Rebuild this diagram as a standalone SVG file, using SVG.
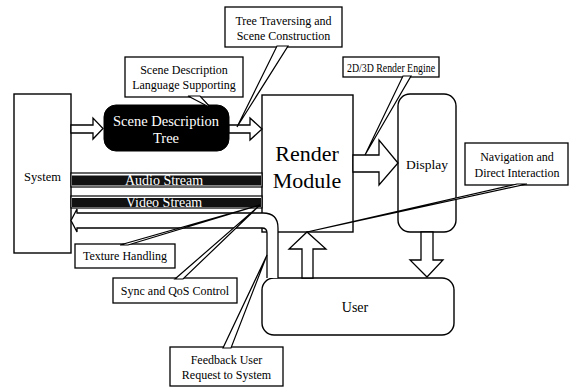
<svg xmlns="http://www.w3.org/2000/svg" width="569" height="388" viewBox="0 0 569 388">
<style>
.box{fill:#fff;stroke:#000;stroke-width:1.4}
.call{fill:#fff;stroke:#000;stroke-width:1.3}
.wedge{fill:#fff;stroke:#000;stroke-width:1.2;stroke-linejoin:miter}
.arr{fill:#fff;stroke:#000;stroke-width:1.3;stroke-linejoin:miter}
.t{font-family:"Liberation Serif","Times New Roman",serif;fill:#000;text-anchor:middle}
.ct{font-size:12px}
.w{fill:#fff}
</style>
<rect width="569" height="388" fill="#fff"/>

<g id="system">
<rect class="box" x="14" y="94" width="57" height="159"/>
<text class="t" x="42.5" y="181" font-size="12.5">System</text>
</g>

<g id="render-module">
<rect class="box" x="262" y="95" width="91" height="137"/>
<text class="t" x="307" y="161" font-size="22">Render</text>
<text class="t" x="307" y="188" font-size="22">Module</text>
</g>

<g id="display">
<rect class="box" x="398" y="94" width="58" height="138" rx="12"/>
<text class="t" x="427" y="169" font-size="13.5">Display</text>
</g>

<g id="user">
<rect class="box" x="262" y="278" width="192" height="57" rx="12"/>
<text class="t" x="355" y="312" font-size="14">User</text>
</g>

<g id="scene-tree">
<rect x="104" y="105" width="125" height="46" rx="12" fill="#000" stroke="#000"/>
<text class="t w" x="166" y="126" font-size="14.5">Scene Description</text>
<text class="t w" x="166" y="143" font-size="14.5">Tree</text>
</g>

<g id="connectors">
<polygon class="arr" points="71,125 93,125 93,118 103,128.5 93,139 93,133 71,133"/>
<polygon class="arr" points="229,125 250,125 250,118 262,129 250,140 250,133 229,133"/>
<polygon class="arr" points="353,155 379,155 379,140 398,163 379,185 379,172 353,172"/>
<polygon class="arr" points="421,232 433,232 433,260 443,260 427,277 410,260 421,260"/>
<polygon class="arr" points="302,278 313,278 313,249 326,249 307,232 289,249 302,249"/>
<g id="audio-stream">
<rect x="71" y="173" width="191" height="14" fill="#fff" stroke="#000" stroke-width="1.2"/>
<rect x="72" y="175.5" width="189" height="10" fill="#111"/>
<text class="t w" x="164" y="185" font-size="14">Audio Stream</text>
</g>
<g id="video-stream">
<rect x="71" y="196" width="191" height="12" fill="#fff" stroke="#000" stroke-width="1.2"/>
<rect x="72" y="198" width="189" height="9" fill="#111"/>
<text class="t w" x="164" y="207" font-size="14">Video Stream</text>
</g>
<path id="feedback" class="arr" d="M278,278 L278,228 Q278,213 263,213 L77,213 L77,209 L71,220.5 L77,232 L77,228 L262,228 Q267,228 267,233 L267,278"/>
</g>

<g id="callout-tree-traversing">
<rect class="call" x="225" y="7" width="117" height="40"/>
<polygon class="wedge" points="277,46 288,46 237,127"/>
<text class="t ct" x="283.5" y="25">Tree Traversing and</text>
<text class="t ct" x="283.5" y="40">Scene Construction</text>
</g>

<g id="callout-sdl">
<rect class="call" x="125" y="57" width="118" height="40"/>
<polygon class="wedge" points="188,96 200,96 211,108"/>
<text class="t ct" x="184" y="74">Scene Description</text>
<text class="t ct" x="184" y="89">Language Supporting</text>
</g>

<g id="callout-render-engine">
<rect class="call" x="343" y="57" width="96" height="20"/>
<polygon class="wedge" points="403,76 411,76 365,155"/>
<text class="t" x="391" y="71.5" font-size="12" textLength="88" lengthAdjust="spacingAndGlyphs">2D/3D Render Engine</text>
</g>

<g id="callout-navigation">
<rect class="call" x="465" y="143" width="103" height="42"/>
<polygon class="wedge" points="517,184 527,184 307,232"/>
<text class="t ct" x="517" y="161">Navigation and</text>
<text class="t ct" x="517" y="177">Direct Interaction</text>
</g>

<g id="callout-texture">
<rect class="call" x="75" y="244" width="100" height="24"/>
<polygon class="wedge" points="120,245 128,245 260,205"/>
<text class="t ct" x="125" y="260">Texture Handling</text>
</g>

<g id="callout-sync">
<rect class="call" x="113" y="278" width="124" height="25"/>
<polygon class="wedge" points="175,279 183,279 260,205"/>
<text class="t ct" x="175" y="295">Sync and QoS Control</text>
</g>

<g id="callout-feedback">
<rect class="call" x="170" y="347" width="113" height="39"/>
<polygon class="wedge" points="223,348 231,348 267,255"/>
<text class="t ct" x="226.5" y="364">Feedback User</text>
<text class="t ct" x="226.5" y="379">Request to System</text>
</g>
</svg>
